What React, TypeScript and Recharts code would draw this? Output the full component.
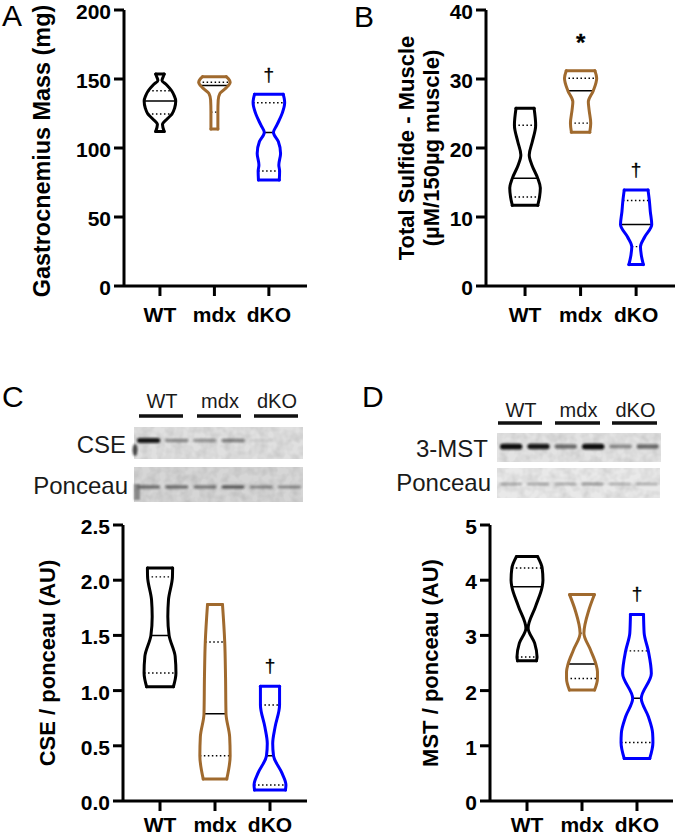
import React from 'react';
import { ComposedChart, Line, XAxis, YAxis, Scatter } from 'recharts';

const FONT = "'Liberation Sans', Arial, Helvetica, sans-serif";
const HALF = 0.29; // widest half-width of a violin, in category units

const groups = ['WT', 'mdx', 'dKO'];
const groupColors = ['#000000', '#a06a2e', '#0000ff'];

// each stats row: [min, q1, median, q3, max]; shape rows: [value, relative width]
const massStats = [
  [112, 124.6, 134, 141.5, 153.6],
  [113.8, 126, 145.2, 147.6, 151.7],
  [76.8, 83.3, 111.3, 132.8, 138.9],
];
const massShape = [
  [[112, 0.27], [117, 0.16], [121, 0.45], [124.6, 0.76], [129, 0.93], [134, 1], [138, 0.9], [141.5, 0.74], [146, 0.4], [149, 0.13], [151.5, 0.2], [153.6, 0.27]],
  [[113.8, 0.22], [121.5, 0.22], [126, 0.22], [134.8, 0.24], [139.6, 0.35], [143, 0.69], [145.2, 0.88], [147.6, 1], [150, 0.9], [151.7, 0.75]],
  [[76.8, 0.66], [83.3, 0.68], [87.7, 0.63], [96.1, 0.74], [104.6, 0.6], [111.3, 0.29], [116.7, 0.51], [125.1, 0.84], [132.8, 1], [136, 0.97], [138.9, 0.91]],
];
const massMarks = [{ x: 3, y: 153, s: '†' }];

const sulfideStats = [
  [11.7, 12.9, 15.6, 23.3, 25.75],
  [22.3, 23.6, 28.3, 30.1, 31.2],
  [3.1, 5.7, 8.9, 12.4, 13.9],
];
const sulfideShape = [
  [[11.7, 0.79], [12.9, 0.9], [14.2, 0.95], [15.6, 0.79], [17.5, 0.43], [19, 0.26], [20.9, 0.45], [23.3, 0.66], [25.75, 0.56]],
  [[22.3, 0.57], [23.6, 0.63], [25.5, 0.53], [26.7, 0.48], [28.3, 0.79], [30.1, 1], [31.2, 0.89]],
  [[3.1, 0.45], [4.5, 0.32], [5.7, 0.27], [7.1, 0.53], [8.9, 0.97], [10.8, 0.88], [12.4, 0.82], [13.9, 0.74]],
];
const sulfideMarks = [{ x: 2, y: 35.9, s: '*' }, { x: 3, y: 16.8, s: '†' }];

const cseStats = [
  [1.035, 1.16, 1.5, 2.03, 2.11],
  [0.2, 0.41, 0.79, 1.44, 1.78],
  [0.1, 0.145, 0.41, 0.87, 1.04],
];
const cseShape = [
  [[1.035, 0.84], [1.16, 1], [1.31, 0.95], [1.5, 0.57], [1.67, 0.49], [1.82, 0.53], [2.03, 0.78], [2.11, 0.79]],
  [[0.2, 0.74], [0.41, 0.95], [0.58, 0.92], [0.79, 0.69], [1.13, 0.66], [1.44, 0.61], [1.78, 0.47]],
  [[0.1, 0.97], [0.145, 1], [0.25, 0.76], [0.41, 0.22], [0.52, 0.17], [0.67, 0.32], [0.87, 0.6], [1.04, 0.6]],
];
const cseMarks = [{ x: 3, y: 1.22, s: '†' }];

const mstStats = [
  [2.54, 2.61, 3.88, 4.22, 4.43],
  [2.01, 2.22, 2.48, 3.04, 3.74],
  [0.77, 1.06, 1.86, 2.72, 3.38],
];
const mstShape = [
  [[2.54, 0.59], [2.61, 0.63], [2.86, 0.48], [3.13, 0.07], [3.52, 0.53], [3.88, 0.95], [4.0, 1], [4.22, 0.95], [4.43, 0.66]],
  [[2.01, 0.79], [2.22, 0.97], [2.34, 0.97], [2.48, 0.875], [2.74, 0.53], [3.04, 0.12], [3.46, 0.43], [3.74, 0.78]],
  [[0.77, 0.8], [1.06, 1], [1.23, 0.98], [1.53, 0.71], [1.86, 0.27], [2.31, 0.9], [2.72, 0.71], [3.04, 0.45], [3.38, 0.41]],
];
const mstMarks = [{ x: 3, y: 3.76, s: '†' }];

// blot band intensities per lane (2 lanes per group)
const cseBands = [0.95, 0.4, 0.35, 0.45, 0.08, 0.02];
const ponceauCBands = [0.5, 0.5, 0.45, 0.6, 0.4, 0.4];
const mstBands = [1, 0.95, 0.55, 1, 0.4, 0.55];
const ponceauDBands = [0.3, 0.3, 0.28, 0.38, 0.25, 0.28];

type Seg = { key: string; data: { x: number; y: number }[]; color: string; width: number; curve: any; dash?: string };

function buildLines(stats: number[][], shapes: number[][][]): Seg[] {
  const out: Seg[] = [];
  const inner: Seg[] = [];
  shapes.forEach((prof, i) => {
    const c = i + 1;
    const color = groupColors[i];
    const [mn, q1, md, q3, mx] = stats[i];
    const w = (v: number) => (prof.find((p) => p[0] === v) || [v, 0])[1];
    const seg = (v: number) => [
      { x: c - w(v) * HALF, y: v },
      { x: c + w(v) * HALF, y: v },
    ];
    inner.push({ key: `q1-${i}`, data: seg(q1), color: '#000', width: 1.4, curve: 'linear', dash: '1.5 2.5' });
    inner.push({ key: `q3-${i}`, data: seg(q3), color: '#000', width: 1.4, curve: 'linear', dash: '1.5 2.5' });
    inner.push({ key: `md-${i}`, data: seg(md), color: '#000', width: 1.5, curve: 'linear' });
    out.push({ key: `r-${i}`, data: prof.map(([v, d]) => ({ x: c + d * HALF, y: v })), color, width: 3, curve: 'monotoneY' });
    out.push({ key: `l-${i}`, data: prof.map(([v, d]) => ({ x: c - d * HALF, y: v })), color, width: 3, curve: 'monotoneY' });
    out.push({ key: `t-${i}`, data: seg(mx), color, width: 3, curve: 'linear' });
    out.push({ key: `b-${i}`, data: seg(mn), color, width: 3, curve: 'linear' });
  });
  return [...inner, ...out];
}

const MarkShape = (p: any) => {
  const s = p.payload.s;
  const size = s === '*' ? 24 : 19;
  const dy = s === '*' ? 0.55 * size : 0.32 * size;
  return (
    <text x={p.cx} y={p.cy + dy} textAnchor="middle" fontSize={size} fontFamily={FONT} fontWeight={s === '*' ? 'bold' : 'normal'} fill="#000" stroke="#000" strokeWidth={0.3}>
      {s}
    </text>
  );
};

const tickStyle = { fontSize: 21, fontWeight: 'bold', fill: '#000', fontFamily: FONT };
const yTickStyle = { ...tickStyle, dy: 1.5 };
const axisStroke = { stroke: '#000', strokeWidth: 3 };

function ViolinPanel(props: any) {
  const { left, top, width, yWidth, right, domainX, yMax, ticks, fmt, stats, shapes, marks, xGap } = props;
  const lines = buildLines(stats, shapes);
  return (
    <div style={{ position: 'absolute', left, top }}>
      <ComposedChart width={width} height={330} margin={{ top: 10, right, bottom: 0, left: 0 }}>
        <XAxis
          type="number"
          dataKey="x"
          domain={domainX}
          allowDataOverflow
          ticks={[1, 2, 3]}
          interval={0}
          tickFormatter={(v: number) => groups[Math.round(v) - 1]}
          axisLine={axisStroke}
          tickLine={axisStroke}
          tickSize={10}
          tickMargin={xGap}
          height={44}
          tick={tickStyle}
        />
        <YAxis
          type="number"
          dataKey="y"
          domain={[0, yMax]}
          allowDataOverflow
          ticks={ticks}
          interval={0}
          tickFormatter={fmt}
          axisLine={axisStroke}
          tickLine={axisStroke}
          tickSize={10}
          tickMargin={3}
          width={yWidth}
          tick={yTickStyle}
        />
        {lines.map((l) => (
          <Line
            key={l.key}
            data={l.data}
            dataKey="y"
            type={l.curve}
            stroke={l.color}
            strokeWidth={l.width}
            strokeDasharray={l.dash}
            strokeLinecap={l.dash ? 'butt' : 'round'}
            dot={false}
            activeDot={false}
            isAnimationActive={false}
          />
        ))}
        <Scatter data={marks} dataKey="y" fill="#000" shape={MarkShape} isAnimationActive={false} />
      </ComposedChart>
    </div>
  );
}

function Blot({ x, y, w, h, bg, bands, bandY, bandH }: any) {
  const lane = w / bands.length;
  return (
    <g>
      <rect x={x} y={y} width={w} height={h} fill={bg} />
      <rect x={x} y={y} width={w} height={h} fill="#000" filter="url(#noise)" opacity={0.6} />
      {bands.map((b: number, i: number) => {
        const bh = bandH * (0.55 + 0.6 * b);
        return (
          <rect
            key={i}
            x={x + lane * i + 3}
            y={bandY - bh / 2}
            width={lane - 5}
            height={bh}
            rx={bh / 2}
            fill="#111"
            opacity={b}
            filter="url(#soft)"
          />
        );
      })}
    </g>
  );
}

function Title({ x, cy, text, size = 22 }: { x: number; cy: number; text: string; size?: number }) {
  return (
    <text
      x={x}
      y={cy}
      transform={`rotate(-90 ${x} ${cy})`}
      textAnchor="middle"
      dominantBaseline="central"
      fontFamily={FONT}
      fontSize={size}
      fontWeight="bold"
      fill="#000"
    >
      {text}
    </text>
  );
}

function GroupBar({ xs, y, labelY }: { xs: number[][]; y: number; labelY: number }) {
  return (
    <g>
      {xs.map(([a, b], i) => (
        <g key={i}>
          <text x={(a + b) / 2 + 1} y={labelY} textAnchor="middle" fontFamily={FONT} fontSize={20} fill="#1a1a1a">
            {groups[i]}
          </text>
          <line x1={a} x2={b} y1={y} y2={y} stroke="#111" strokeWidth={3.5} />
        </g>
      ))}
    </g>
  );
}

export default function App() {
  return (
    <div style={{ position: 'absolute', left: 0, top: 0, width: 677, height: 837, background: '#fff', overflow: 'hidden' }}>
      <ViolinPanel left={0} top={0} width={310} yWidth={124} right={3} domainX={[0.34, 3.7]} yMax={200} xGap={11}
        ticks={[0, 50, 100, 150, 200]} fmt={(v: number) => String(v)} stats={massStats} shapes={massShape} marks={massMarks} />
      <ViolinPanel left={330} top={0} width={347} yWidth={156} right={2} domainX={[0.297, 3.7]} yMax={40} xGap={11}
        ticks={[0, 10, 20, 30, 40]} fmt={(v: number) => String(v)} stats={sulfideStats} shapes={sulfideShape} marks={sulfideMarks} />
      <ViolinPanel left={0} top={515} width={310} yWidth={123} right={3} domainX={[0.327, 3.673]} yMax={2.5} xGap={6}
        ticks={[0, 0.5, 1, 1.5, 2, 2.5]} fmt={(v: number) => v.toFixed(1)} stats={cseStats} shapes={cseShape} marks={cseMarks} />
      <ViolinPanel left={330} top={515} width={347} yWidth={160} right={4} domainX={[0.327, 3.655]} yMax={5} xGap={6}
        ticks={[0, 1, 2, 3, 4, 5]} fmt={(v: number) => String(v)} stats={mstStats} shapes={mstShape} marks={mstMarks} />

      <svg width={677} height={837} style={{ position: 'absolute', left: 0, top: 0, pointerEvents: 'none' }}>
        <defs>
          <filter id="soft" x="-20%" y="-100%" width="140%" height="300%">
            <feGaussianBlur stdDeviation="1.1" />
          </filter>
          <filter id="noise" x="0" y="0" width="100%" height="100%">
            <feTurbulence type="fractalNoise" baseFrequency="0.12" numOctaves="2" seed="4" />
            <feColorMatrix type="matrix" values="0 0 0 0 0  0 0 0 0 0  0 0 0 0 0  0 0 0 0.3 -0.1" />
          </filter>
        </defs>

        <g fontFamily={FONT} fontSize={30} fill="#000">
          <text x={2} y={26}>A</text>
          <text x={354} y={27}>B</text>
          <text x={2} y={407}>C</text>
          <text x={362} y={407}>D</text>
        </g>

        <Title x={42} cy={151} text="Gastrocnemius Mass (mg)" size={23.4} />
        <Title x={406} cy={148} text="Total Sulfide - Muscle" />
        <Title x={431} cy={148} text="(µM/150µg muscle)" />
        <Title x={47} cy={663} text="CSE / ponceau (AU)" />
        <Title x={430} cy={663} text="MST / ponceau (AU)" />

        <GroupBar xs={[[139, 183], [197, 241], [254, 298]]} y={416} labelY={408} />
        <GroupBar xs={[[498, 542], [555, 600], [612, 657]]} y={423} labelY={417} />

        <Blot x={134} y={427} w={169} h={32} bg="#e0e0e0" bands={cseBands} bandY={440.5} bandH={4.5} />
        <ellipse cx={135} cy={450} rx={2.5} ry={6} fill="#222" opacity={0.8} filter="url(#soft)" />
        <Blot x={134} y={467} w={169} h={35} bg="#d6d6d6" bands={ponceauCBands} bandY={487} bandH={4} />
        <rect x={134} y={484} width={6} height={16} fill="#555" opacity={0.6} filter="url(#soft)" />
        <Blot x={497} y={433} w={164} h={29} bg="#e3e3e3" bands={mstBands} bandY={446.5} bandH={5} />
        <Blot x={497} y={468} w={163} h={30} bg="#e9e9e9" bands={ponceauDBands} bandY={484} bandH={3.5} />

        <g fontFamily={FONT} fontSize={24} fill="#1a1a1a" textAnchor="end">
          <text x={126} y={453}>CSE</text>
          <text x={128} y={494}>Ponceau</text>
          <text x={488} y={457}>3-MST</text>
          <text x={491} y={491}>Ponceau</text>
        </g>
      </svg>
    </div>
  );
}
